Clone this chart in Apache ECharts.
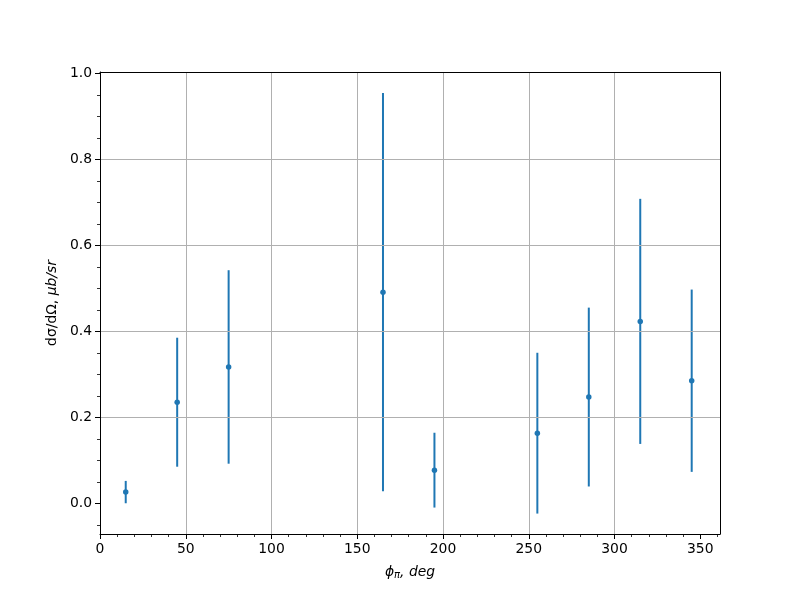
<!DOCTYPE html>
<html>
<head>
<meta charset="utf-8">
<script src="https://cdn.jsdelivr.net/npm/echarts@6/dist/echarts.min.js"></script>
<style>html,body{margin:0;padding:0;background:#fff}#c{width:800px;height:600px}</style>
</head>
<body>
<div id="c"></div>
<script>
const xValues = [15, 45, 75, 165, 195, 255, 285, 315, 345];
const yValues = [0.026, 0.235, 0.317, 0.491, 0.077, 0.163, 0.247, 0.423, 0.285];
const yErrors = [0.026, 0.150, 0.225, 0.463, 0.087, 0.187, 0.208, 0.285, 0.212];
const xTicks = [0, 50, 100, 150, 200, 250, 300, 350];
const yTicks = [0, 0.2, 0.4, 0.6, 0.8, 1.0];
const xLimits = [0, 361.5];
const yLimits = [-0.0715, 1.003];

const color = '#1f77b4';
const font = 'DejaVu Sans';
const chart = echarts.init(document.getElementById('c'), null, {renderer: 'canvas'});
const points = xValues.map((x, i) => [x, yValues[i]]);
const bars = xValues.map((x, i) => [x, yValues[i] - yErrors[i], yValues[i] + yErrors[i]]);

const option = {
  animation: false,
  backgroundColor: '#fff',
  grid: {left: 100, right: 80, top: 72, bottom: 66, show: false},
  xAxis: [{
    type: 'value', min: xLimits[0], max: xLimits[1], interval: 50,
    name: '{i|ϕ}{s|π}{i|, deg}', nameLocation: 'middle', nameGap: 30,
    nameTextStyle: {rich: {i: {fontFamily: font, fontSize: 13.9, fontStyle: 'italic', color: '#000'}, s: {fontFamily: font, fontSize: 10, fontStyle: 'italic', color: '#000', verticalAlign: 'bottom', padding: [6, 0, 0, 0]}}},
    axisLine: {show: true, onZero: false, lineStyle: {color: '#000', width: 1}},
    axisTick: {show: true, inside: false, length: 5, customValues: xTicks, lineStyle: {color: '#000', width: 1}},
    minorTick: {show: true, splitNumber: 5, length: 3, lineStyle: {color: '#000', width: 0.8}},
    axisLabel: {show: true, margin: 8, color: '#000', fontFamily: font, fontSize: 13.9, customValues: xTicks},
    splitLine: {show: true, showMinLine: false, showMaxLine: false, lineStyle: {color: '#b0b0b0', width: 1}},
    minorSplitLine: {show: false},
    z: 5
  }, {
    type: 'value', position: 'top', min: xLimits[0], max: xLimits[1],
    axisLine: {show: true, onZero: false, lineStyle: {color: '#000', width: 1}},
    axisTick: {show: false}, axisLabel: {show: false}, splitLine: {show: false}, z: 5
  }],
  yAxis: [{
    type: 'value', min: yLimits[0], max: yLimits[1], splitNumber: 5,
    name: '{r|dσ/dΩ, }{i|μb/sr}', nameLocation: 'middle', nameGap: 39, nameRotate: 90,
    nameTextStyle: {rich: {r: {fontFamily: font, fontSize: 13.9, color: '#000'}, i: {fontFamily: font, fontSize: 13.9, fontStyle: 'italic', color: '#000'}}},
    axisLine: {show: true, onZero: false, lineStyle: {color: '#000', width: 1}},
    axisTick: {show: true, inside: false, length: 5, customValues: yTicks, lineStyle: {color: '#000', width: 1}},
    minorTick: {show: true, splitNumber: 4, length: 3, lineStyle: {color: '#000', width: 0.8}},
    axisLabel: {show: true, margin: 8, color: '#000', fontFamily: font, fontSize: 13.9, customValues: yTicks,
      formatter: v => v.toFixed(1)},
    splitLine: {show: true, showMinLine: false, showMaxLine: false, lineStyle: {color: '#b0b0b0', width: 1}},
    minorSplitLine: {show: false},
    z: 5
  }, {
    type: 'value', position: 'right', min: yLimits[0], max: yLimits[1],
    axisLine: {show: true, onZero: false, lineStyle: {color: '#000', width: 1}},
    axisTick: {show: false}, axisLabel: {show: false}, splitLine: {show: false}, z: 5
  }],
  series: [
    {
      type: 'custom',
      data: bars,
      clip: true,
      renderItem: function (params, api) {
        const lo = api.coord([api.value(0), api.value(1)]);
        const hi = api.coord([api.value(0), api.value(2)]);
        return {type: 'line', shape: {x1: lo[0], y1: lo[1], x2: hi[0], y2: hi[1]}, style: {stroke: color, lineWidth: 2}};
      },
      z: 2
    },
    {
      type: 'scatter', data: points, symbol: 'circle', symbolSize: 5.5,
      itemStyle: {color: color, opacity: 1}, z: 3
    }
  ]
};
chart.setOption(option);
</script>
</body>
</html>
